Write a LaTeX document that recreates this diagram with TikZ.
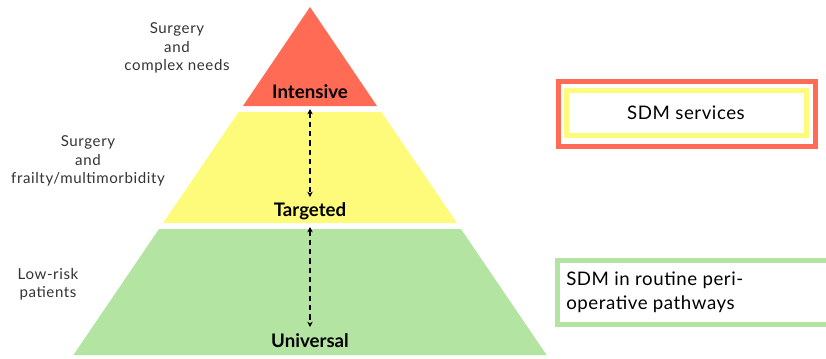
\documentclass[tikz,border=0pt]{standalone}
\usepackage{fontspec}
\setmainfont{Lato}
\usepackage{tikz}
\usetikzlibrary{arrows.meta}

\definecolor{tierred}{HTML}{FF6B55}
\definecolor{tieryellow}{HTML}{FFFB7A}
\definecolor{tiergreen}{HTML}{B4E4A2}

\tikzset{
	tier/.style = {font = \fontsize{14}{16}\selectfont\bfseries, inner sep = 0pt},
	side/.style = {font = \fontsize{11.3}{13.8}\selectfont\addfontfeature{LetterSpace=4}, align = center, text = black!80, inner sep = 0pt},
	boxtext/.style = {font = \fontsize{14}{18}\selectfont\addfontfeature{LetterSpace=3}, inner sep = 0pt},
	link/.style = {dashed, line width = 1.1pt, dash pattern = on 4pt off 3pt, {Stealth[length = 4pt, width = 4pt]}-{Stealth[length = 4pt, width = 4pt]}}
}

\begin{document}
\begin{tikzpicture}[x = 0.75pt, y = -0.75pt]
		\useasboundingbox (0,0) rectangle (826,358);
		% pyramid
		\fill[tierred] (310,7) -- (377,106) -- (243,106) -- cycle;
		\fill[tieryellow] (238.6,112) -- (381.4,112) -- (456.9,223) -- (163.1,223) -- cycle;
		\fill[tiergreen] (159,229) -- (461,229) -- (546.6,355) -- (73.4,355) -- cycle;
		\node[tier] (intensive) at (310,92) {Intensive};
		\node[tier] (targeted) at (310,211) {Targeted};
		\node[tier] (universal) at (310,341) {Universal};
		\coordinate (upA) at (310,109);
		\coordinate (upB) at (310,197);
		\coordinate (loA) at (310,227);
		\coordinate (loB) at (310,327);
		\draw[link] (upA) -- (upB);
		\draw[link] (loA) -- (loB);
		% side labels
		\node[side] (complex) at (177,48) {Surgery\\and\\complex needs};
		\node[side] (frailty) at (88,161) {Surgery\\and\\frailty/multimorbidity};
		\node[side] (lowrisk) at (48,284) {Low-risk\\patients};
		% boxes
		\draw[tierred, line width = 3.75pt] (558.5,81.5) rectangle (815.5,146.5);
		\draw[tieryellow, line width = 3.75pt] (566.5,90.5) rectangle (806.5,135.5);
		\node[boxtext] (services) at (686,113) {SDM services};
		\draw[tiergreen, line width = 3.75pt] (830,260.5) -- (557.5,260.5) -- (557.5,324.5) -- (830,324.5);
		\node[boxtext, align = left, anchor = west] (routine) at (566,292) {SDM in routine peri-\\operative pathways};
	\end{tikzpicture}
\end{document}
